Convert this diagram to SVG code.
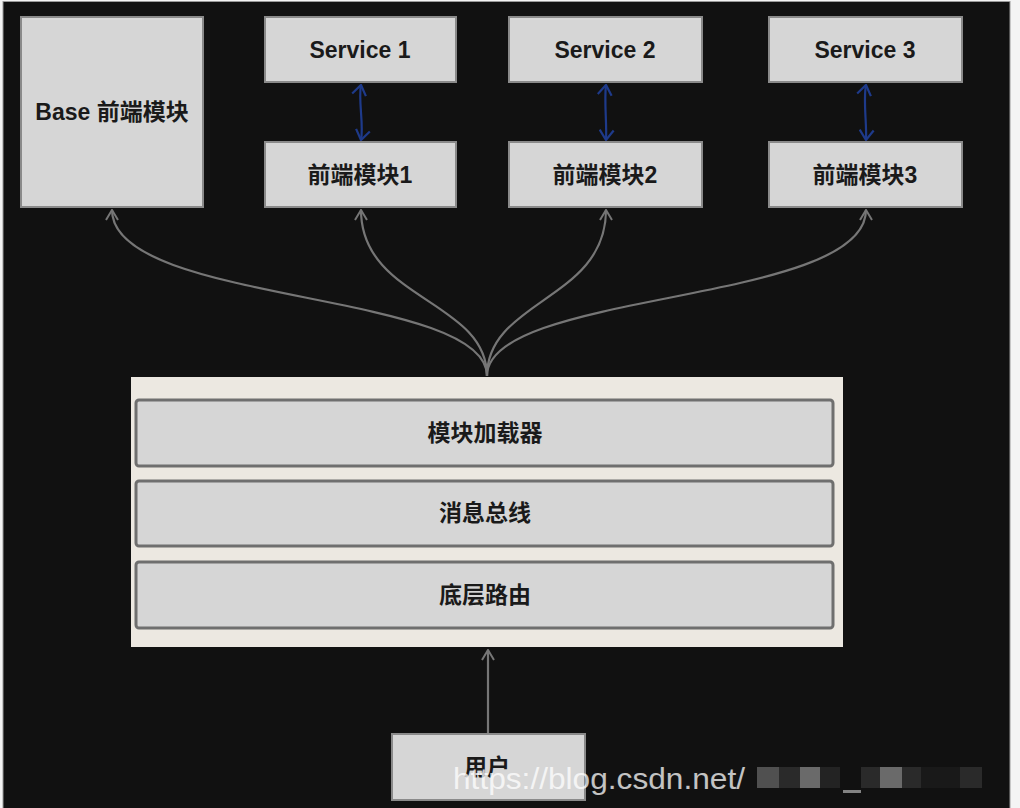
<svg xmlns="http://www.w3.org/2000/svg" width="1020" height="808" viewBox="0 0 1020 808">
<style>
.box{fill:#d6d6d6;stroke:#8a8a8a;stroke-width:2}
.bar{fill:#d6d6d6;stroke:#6f6f6f;stroke-width:3}
.t{font-family:"Liberation Sans","Noto Sans CJK SC",sans-serif;font-weight:bold;font-size:23px;fill:#1a1a1a;text-anchor:middle;dominant-baseline:central}
.g{fill:none;stroke:#767676;stroke-width:2.2}
.b{fill:none;stroke:#1e3a8a;stroke-width:2.2}
</style>
<defs>
<marker id="ga" viewBox="0 0 12 14" refX="11" refY="7" markerWidth="12" markerHeight="14" markerUnits="userSpaceOnUse" orient="auto">
<path d="M1,1 L11,7 L1,13" fill="none" stroke="#767676" stroke-width="2"/>
</marker>
<marker id="ba" viewBox="0 0 12 16" refX="11" refY="8" markerWidth="12" markerHeight="16" markerUnits="userSpaceOnUse" orient="auto-start-reverse">
<path d="M1,1 L11,8 L1,15" fill="none" stroke="#1e3a8a" stroke-width="2.2"/>
</marker>
</defs>
<rect x="0" y="0" width="1020" height="808" fill="#f4f4f4"/>
<rect x="3" y="1.5" width="1007" height="810" fill="#111111" stroke="#9a9a9a" stroke-width="1"/>

<g id="connectors">
<path class="g" d="M487,376 C487,290 112,305 112,210" marker-end="url(#ga)"/>
<path class="g" d="M487,376 C487,300 361,300 361,210" marker-end="url(#ga)"/>
<path class="g" d="M487,376 C487,300 606,300 606,210" marker-end="url(#ga)"/>
<path class="g" d="M487,376 C487,290 866,305 866,210" marker-end="url(#ga)"/>
<path class="g" d="M488,733 L488,650" marker-end="url(#ga)"/>
<path class="b" d="M361,85 C358,100 364,125 361,140" marker-start="url(#ba)" marker-end="url(#ba)"/>
<path class="b" d="M606,85 C604,100 607,125 606,140" marker-start="url(#ba)" marker-end="url(#ba)"/>
<path class="b" d="M866,85 C863,100 867,125 866,140" marker-start="url(#ba)" marker-end="url(#ba)"/>
</g>

<g id="base"><rect class="box" x="21" y="17" width="182" height="190"/><text class="t" x="112" y="112">Base 前端模块</text></g>
<g id="service1"><rect class="box" x="265" y="17" width="191" height="65"/><text class="t" x="360" y="50">Service 1</text></g>
<g id="module1"><rect class="box" x="265" y="142" width="191" height="65"/><text class="t" x="360" y="175">前端模块1</text></g>
<g id="service2"><rect class="box" x="509" y="17" width="193" height="65"/><text class="t" x="605" y="50">Service 2</text></g>
<g id="module2"><rect class="box" x="509" y="142" width="193" height="65"/><text class="t" x="605" y="175">前端模块2</text></g>
<g id="service3"><rect class="box" x="769" y="17" width="193" height="65"/><text class="t" x="865" y="50">Service 3</text></g>
<g id="module3"><rect class="box" x="769" y="142" width="193" height="65"/><text class="t" x="865" y="175">前端模块3</text></g>

<g id="container">
<rect x="131" y="377" width="712" height="270" fill="#ece8e1"/>
<g id="loader"><rect class="bar" x="136" y="400" width="697" height="66" rx="3"/><text class="t" x="485" y="433">模块加载器</text></g>
<g id="bus"><rect class="bar" x="136" y="481" width="697" height="65" rx="3"/><text class="t" x="485" y="513">消息总线</text></g>
<g id="router"><rect class="bar" x="136" y="562" width="697" height="66" rx="3"/><text class="t" x="485" y="595">底层路由</text></g>
</g>

<g id="user"><rect class="box" x="392" y="734" width="193" height="66"/><text class="t" x="487" y="767">用户</text></g>

<g id="watermark" opacity="0.75">
<text x="453" y="789" font-family="Liberation Sans, sans-serif" font-size="30" fill="#ffffff" textLength="292" lengthAdjust="spacingAndGlyphs">https://blog.csdn.net/</text>
<rect x="757" y="767" width="22" height="21" fill="#666"/>
<rect x="779" y="767" width="21" height="21" fill="#333"/>
<rect x="800" y="767" width="20" height="21" fill="#888"/>
<rect x="820" y="767" width="20" height="21" fill="#2a2a2a"/>
<rect x="843" y="790" width="18" height="3" fill="#aaa"/>
<rect x="861" y="767" width="19" height="21" fill="#333"/>
<rect x="880" y="767" width="22" height="21" fill="#888"/>
<rect x="902" y="767" width="19" height="21" fill="#333"/>
<rect x="921" y="767" width="39" height="21" fill="#1c1c1c"/>
<rect x="960" y="767" width="22" height="21" fill="#333"/>
</g>
</svg>
